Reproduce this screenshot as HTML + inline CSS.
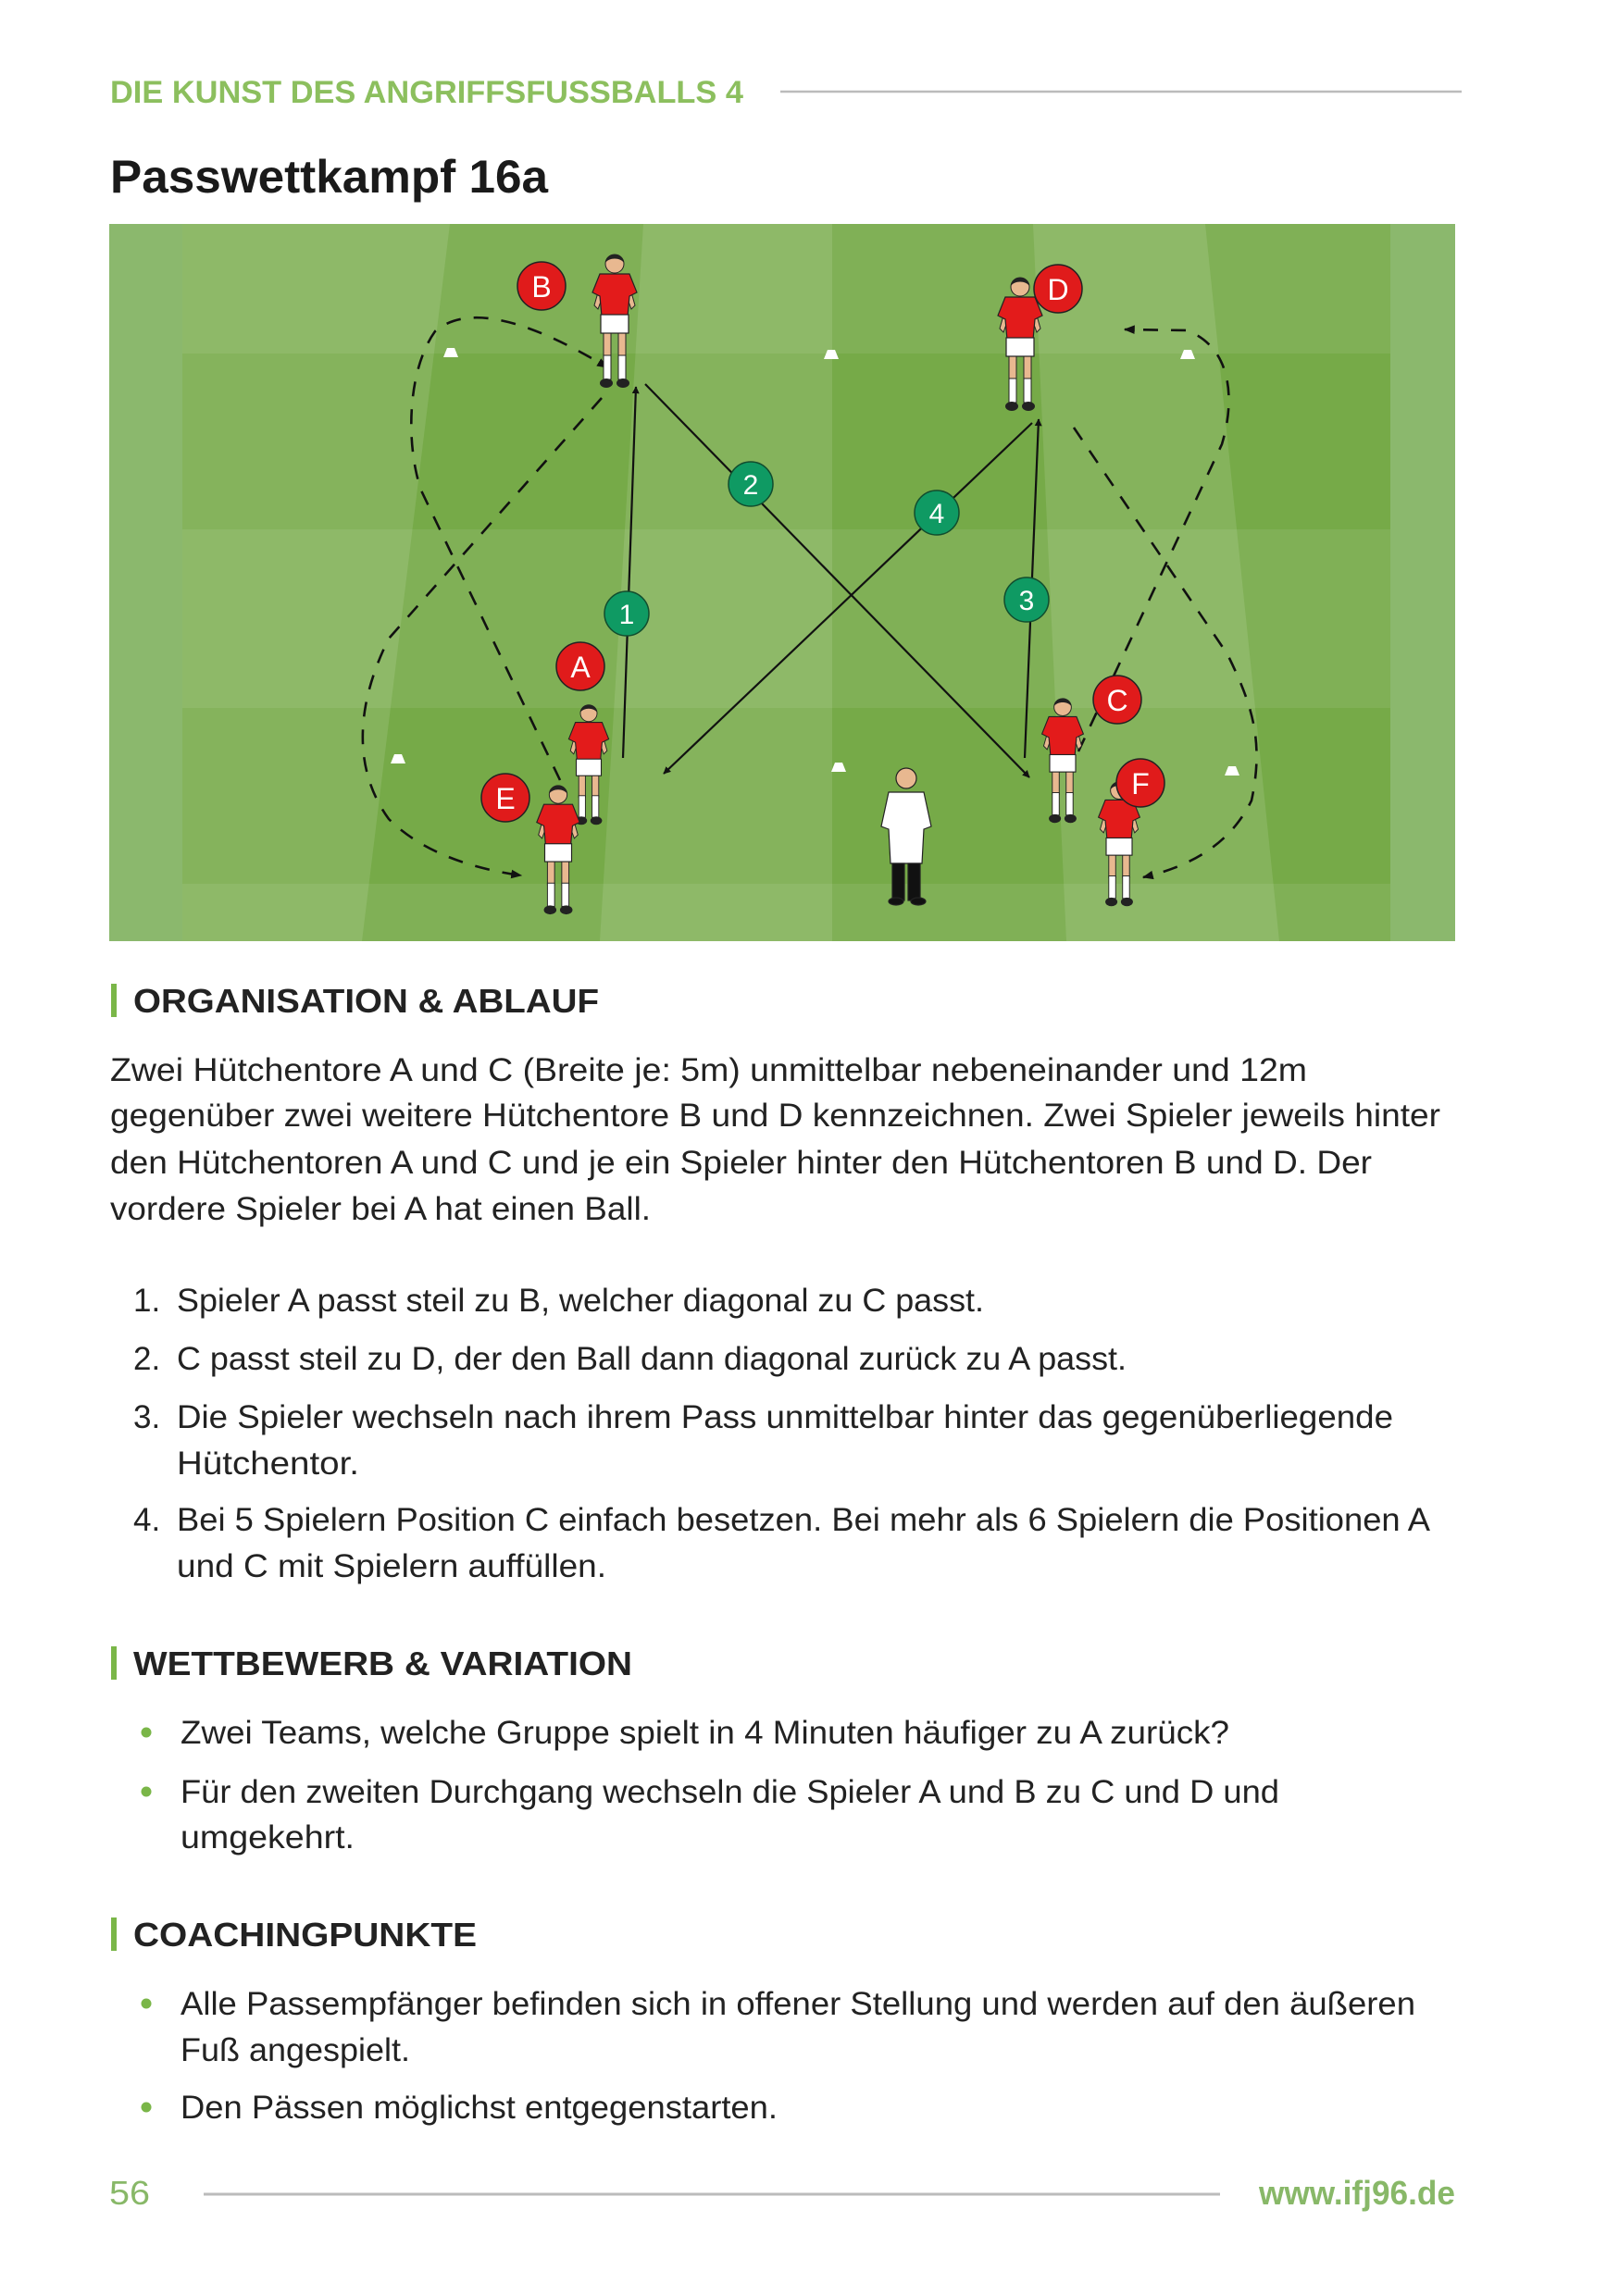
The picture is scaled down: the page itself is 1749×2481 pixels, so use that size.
<!DOCTYPE html>
<html><head><meta charset="utf-8"><style>
html,body{margin:0;padding:0;background:#fff}
svg{display:block}
text{font-family:"Liberation Sans",sans-serif}
</style></head><body>
<svg width="1749" height="2481" viewBox="0 0 1749 2481" xmlns="http://www.w3.org/2000/svg">
<defs>
<marker id="ah" viewBox="0 0 10 10" refX="9" refY="5" markerWidth="8" markerHeight="8" markerUnits="userSpaceOnUse" orient="auto"><path d="M0,0 L10,5 L0,10 Z" fill="#111"/></marker>
<marker id="ah2" viewBox="0 0 10 10" refX="9" refY="5" markerWidth="12" markerHeight="12" markerUnits="userSpaceOnUse" orient="auto"><path d="M0,1 L10,5 L0,9 Z" fill="#111"/></marker>
<clipPath id="fc"><rect x="118" y="242" width="1454" height="775"/></clipPath>
<symbol id="pl" viewBox="0 0 60 150" width="60" height="150" overflow="visible">
  <path d="M16,30 L8,58 L12,62 L20,40 Z" fill="#e8b890" stroke="#222" stroke-width="1"/>
  <path d="M44,30 L52,58 L48,62 L40,40 Z" fill="#e8b890" stroke="#222" stroke-width="1"/>
  <rect x="18" y="86" width="8" height="28" fill="#e8b890" stroke="#222" stroke-width="1"/>
  <rect x="34" y="86" width="8" height="28" fill="#e8b890" stroke="#222" stroke-width="1"/>
  <rect x="18" y="112" width="8" height="26" fill="#fff" stroke="#222" stroke-width="1"/>
  <rect x="34" y="112" width="8" height="26" fill="#fff" stroke="#222" stroke-width="1"/>
  <ellipse cx="21" cy="142" rx="7" ry="5" fill="#222"/>
  <ellipse cx="39" cy="142" rx="7" ry="5" fill="#222"/>
  <path d="M14,24 L46,24 L54,44 L46,48 L44,70 L16,70 L14,48 L6,44 Z" fill="#e31b1b" stroke="#222" stroke-width="1.2"/>
  <rect x="15" y="68" width="30" height="20" fill="#fff" stroke="#222" stroke-width="1.2"/>
  <circle cx="30" cy="13" r="10" fill="#e8b890" stroke="#222" stroke-width="1"/>
  <path d="M20,12 C20,0 40,0 40,12 C36,6 24,6 20,12 Z" fill="#222"/>
</symbol>
</defs>

<!-- header -->
<text x="119" y="111" font-size="34" font-weight="bold" fill="#8cbf5e" textLength="684" lengthAdjust="spacingAndGlyphs">DIE KUNST DES ANGRIFFSFUSSBALLS 4</text>
<line x1="843" y1="99" x2="1579" y2="99" stroke="#bbb" stroke-width="2.5"/>
<text x="119" y="208" font-size="50" font-weight="bold" fill="#1a1a1a" textLength="473" lengthAdjust="spacingAndGlyphs">Passwettkampf 16a</text>

<!-- field -->
<g clip-path="url(#fc)">
<rect x="118" y="242" width="1454" height="775" fill="#76aa48"/>
<polygon points="150,242 486,242 391,1017 60,1017" fill="#fff" opacity="0.11"/>
<polygon points="695,242 899,242 899,1017 648,1017" fill="#fff" opacity="0.11"/>
<polygon points="1116,242 1302,242 1382,1017 1152,1017" fill="#fff" opacity="0.11"/>
<rect x="118" y="242" width="1454" height="140" fill="#fff" opacity="0.08"/>
<rect x="118" y="572" width="1454" height="193" fill="#fff" opacity="0.08"/>
<rect x="118" y="955" width="1454" height="62" fill="#fff" opacity="0.08"/>
<rect x="118" y="242" width="79" height="775" fill="#8bb86d"/>
<rect x="1502" y="242" width="70" height="775" fill="#8bb86d"/>
</g>

<!-- cones -->
<g fill="#fff">
<path d="M479,386 L495,386 L491,376 L483,376 Z"/><path d="M890,388 L906,388 L902,378 L894,378 Z"/><path d="M1275,388 L1291,388 L1287,378 L1279,378 Z"/>
<path d="M422,825 L438,825 L434,815 L426,815 Z"/><path d="M898,834 L914,834 L910,824 L902,824 Z"/><path d="M1323,838 L1339,838 L1335,828 L1327,828 Z"/>
</g>

<!-- dashed runs -->
<g fill="none" stroke="#111" stroke-width="2.6" stroke-dasharray="16,14">
<path d="M605,843 L455,530 C438,480 440,400 470,358 C505,328 570,345 656,397" marker-end="url(#ah2)"/>
<path d="M650,430 L420,690 C385,760 380,830 420,885 C460,925 520,940 563,946" marker-end="url(#ah2)"/>
<path d="M1160,462 L1326,707 C1352,760 1366,800 1352,865 C1330,910 1290,935 1235,948" marker-end="url(#ah2)"/>
<path d="M1165,812 L1320,480 C1335,430 1330,375 1282,357 L1215,356" marker-end="url(#ah2)"/>
</g>

<!-- passes -->
<g stroke="#111" stroke-width="2.2" fill="none">
<line x1="673" y1="819" x2="687" y2="418" marker-end="url(#ah)"/>
<line x1="697" y1="415" x2="1112" y2="840" marker-end="url(#ah)"/>
<line x1="1107" y1="819" x2="1122" y2="453" marker-end="url(#ah)"/>
<line x1="1115" y1="457" x2="717" y2="836" marker-end="url(#ah)"/>
</g>

<!-- players -->
<use href="#pl" x="634" y="272" width="60" height="150"/>
<use href="#pl" x="1072" y="297" width="60" height="150"/>
<use href="#pl" x="609" y="759" width="54" height="135"/>
<use href="#pl" x="574" y="846" width="58" height="145"/>
<use href="#pl" x="1120" y="752" width="56" height="140"/>
<use href="#pl" x="1181" y="842" width="56" height="140"/>
<!-- coach -->
<g stroke="#222" stroke-width="1.2">
<path d="M960,856 L998,856 L1006,893 L998,896 L996,933 L962,933 L960,896 L952,893 Z" fill="#fff"/>
<rect x="964" y="933" width="13" height="40" fill="#111"/>
<rect x="981" y="933" width="13" height="40" fill="#111"/>
<ellipse cx="968" cy="974" rx="8" ry="4" fill="#111"/>
<ellipse cx="992" cy="974" rx="8" ry="4" fill="#111"/>
<circle cx="979" cy="841" r="11" fill="#e8b890"/>
</g>

<!-- labels -->
<g stroke="#222" stroke-width="1.5" fill="#e01b1b">
<circle cx="585" cy="309" r="26"/><circle cx="1143" cy="312" r="26"/><circle cx="627" cy="720" r="26"/>
<circle cx="1207" cy="756" r="26"/><circle cx="546" cy="862" r="26"/><circle cx="1232" cy="846" r="26"/>
</g>
<g font-size="32" fill="#fff" text-anchor="middle">
<text x="585" y="321">B</text><text x="1143" y="324">D</text><text x="627" y="732">A</text>
<text x="1207" y="768">C</text><text x="546" y="874">E</text><text x="1232" y="858">F</text>
</g>
<g stroke="#114d2e" stroke-width="1.5" fill="#0f9a63">
<circle cx="677" cy="663" r="24"/><circle cx="811" cy="523" r="24"/><circle cx="1012" cy="554" r="24"/><circle cx="1109" cy="648" r="24"/>
</g>
<g font-size="30" fill="#fff" text-anchor="middle">
<text x="677" y="674">1</text><text x="811" y="534">2</text><text x="1012" y="565">4</text><text x="1109" y="659">3</text>
</g>

<!-- text sections -->
<g fill="#7ab648">
<rect x="120" y="1063" width="6" height="36"/><rect x="120" y="1779" width="6" height="36"/><rect x="120" y="2072" width="6" height="36"/>
<circle cx="158" cy="1872" r="5.5"/><circle cx="158" cy="1936" r="5.5"/>
<circle cx="158" cy="2165" r="5.5"/><circle cx="158" cy="2277" r="5.5"/>
</g>
<g font-size="36" font-weight="bold" fill="#222">
<text x="144" y="1094" textLength="503" lengthAdjust="spacingAndGlyphs">ORGANISATION &amp; ABLAUF</text>
<text x="144" y="1810" textLength="539" lengthAdjust="spacingAndGlyphs">WETTBEWERB &amp; VARIATION</text>
<text x="144" y="2103" textLength="371" lengthAdjust="spacingAndGlyphs">COACHINGPUNKTE</text>
</g>
<g font-size="35" fill="#222">
<text x="119" y="1168" textLength="1293" lengthAdjust="spacingAndGlyphs">Zwei Hütchentore A und C (Breite je: 5m) unmittelbar nebeneinander und 12m</text>
<text x="119" y="1217" textLength="1437" lengthAdjust="spacingAndGlyphs">gegenüber zwei weitere Hütchentore B und D kennzeichnen. Zwei Spieler jeweils hinter</text>
<text x="119" y="1268" textLength="1363" lengthAdjust="spacingAndGlyphs">den Hütchentoren A und C und je ein Spieler hinter den Hütchentoren B und D. Der</text>
<text x="119" y="1318" textLength="584" lengthAdjust="spacingAndGlyphs">vordere Spieler bei A hat einen Ball.</text>

<text x="144" y="1417">1.</text>
<text x="191" y="1417" textLength="872" lengthAdjust="spacingAndGlyphs">Spieler A passt steil zu B, welcher diagonal zu C passt.</text>
<text x="144" y="1480">2.</text>
<text x="191" y="1480" textLength="1026" lengthAdjust="spacingAndGlyphs">C passt steil zu D, der den Ball dann diagonal zurück zu A passt.</text>
<text x="144" y="1543">3.</text>
<text x="191" y="1543" textLength="1314" lengthAdjust="spacingAndGlyphs">Die Spieler wechseln nach ihrem Pass unmittelbar hinter das gegenüberliegende</text>
<text x="191" y="1593" textLength="197" lengthAdjust="spacingAndGlyphs">Hütchentor.</text>
<text x="144" y="1654">4.</text>
<text x="191" y="1654" textLength="1354" lengthAdjust="spacingAndGlyphs">Bei 5 Spielern Position C einfach besetzen. Bei mehr als 6 Spielern die Positionen A</text>
<text x="191" y="1704" textLength="464" lengthAdjust="spacingAndGlyphs">und C mit Spielern auffüllen.</text>

<text x="195" y="1884" textLength="1133" lengthAdjust="spacingAndGlyphs">Zwei Teams, welche Gruppe spielt in 4 Minuten häufiger zu A zurück?</text>
<text x="195" y="1948" textLength="1187" lengthAdjust="spacingAndGlyphs">Für den zweiten Durchgang wechseln die Spieler A und B zu C und D und</text>
<text x="195" y="1997" textLength="188" lengthAdjust="spacingAndGlyphs">umgekehrt.</text>

<text x="195" y="2177" textLength="1334" lengthAdjust="spacingAndGlyphs">Alle Passempfänger befinden sich in offener Stellung und werden auf den äußeren</text>
<text x="195" y="2227" textLength="248" lengthAdjust="spacingAndGlyphs">Fuß angespielt.</text>
<text x="195" y="2289" textLength="645" lengthAdjust="spacingAndGlyphs">Den Pässen möglichst entgegenstarten.</text>
</g>

<!-- footer -->
<text x="118" y="2382" font-size="36" fill="#88b868" textLength="44" lengthAdjust="spacingAndGlyphs">56</text>
<line x1="220" y1="2371" x2="1318" y2="2371" stroke="#bbb" stroke-width="3"/>
<text x="1360" y="2382" font-size="36" font-weight="bold" fill="#88b868" textLength="212" lengthAdjust="spacingAndGlyphs">www.ifj96.de</text>
</svg>
</body></html>
